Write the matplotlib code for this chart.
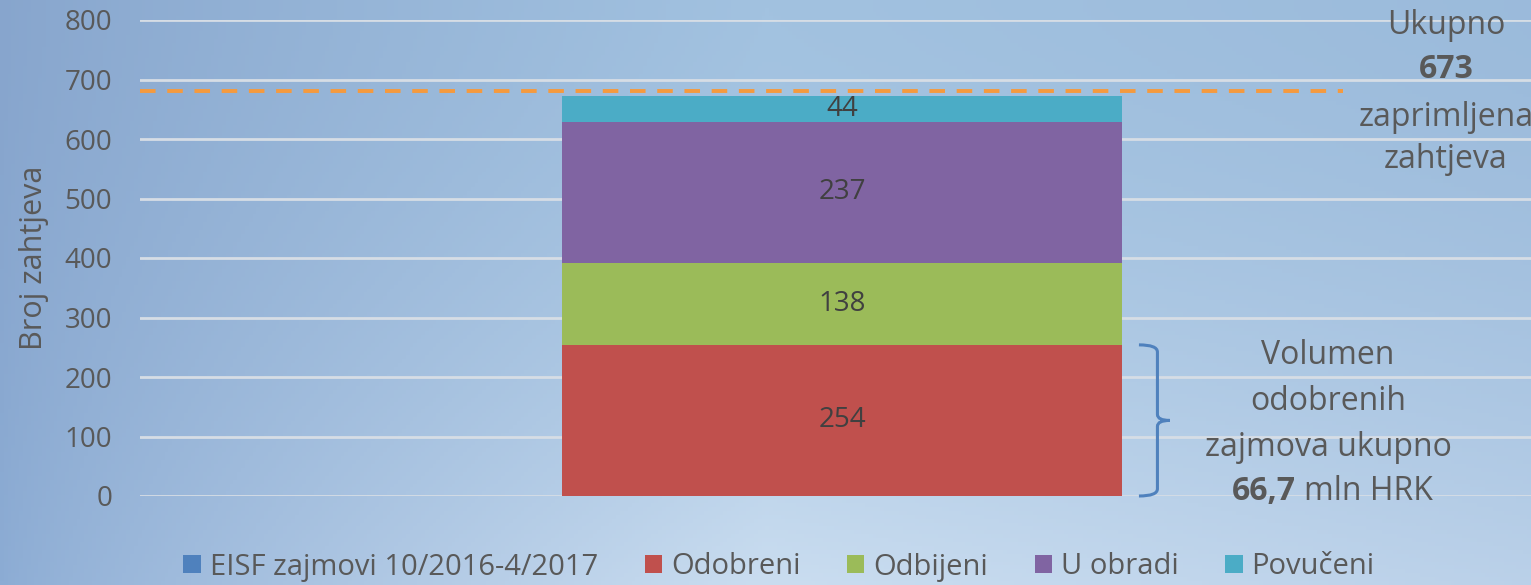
import numpy as np
import matplotlib.pyplot as plt
from matplotlib.path import Path
from matplotlib.patches import PathPatch

# --- data ---
series = ['EISF zajmovi 10/2016-4/2017', 'Odobreni', 'Odbijeni', 'U obradi', 'Povučeni']
values = [0, 254, 138, 237, 44]
colors = ['#4F81BD', '#C0504D', '#9BBB59', '#8064A2', '#4BACC6']
total = 673
total_line = 680
y_ticks = [0, 100, 200, 300, 400, 500, 600, 700, 800]

plt.rcParams['font.family'] = ['Open Sans', 'DejaVu Sans']
TXT = '#595959'

W, H = 1531, 585
fig = plt.figure(figsize=(W / 100, H / 100), dpi=100)

# background gradient: darker on the left, lightest at bottom middle
bg = fig.add_axes([0, 0, 1, 1], zorder=-10)
gx, gy = np.meshgrid(np.linspace(0, 1, 400), np.linspace(0, 1, 150))
h = np.clip(gx / 0.5, 0, 1) ** 0.8
h = np.where(gx > 0.5, 1 - 0.25 * (gx - 0.5) / 0.5, h)
top_l, top_c = np.array([135, 165, 205]), np.array([162, 194, 224])
bot_l, bot_c = np.array([140, 172, 212]), np.array([202, 221, 240])
top = top_l + h[..., None] * (top_c - top_l)
bot = bot_l + h[..., None] * (bot_c - bot_l)
v = (gy ** 1.6)[..., None]
img = (top * (1 - v) + bot * v) / 255
bg.imshow(img, aspect='auto', extent=[0, 1, 0, 1], origin='upper')
bg.axis('off')

ax = fig.add_axes([140 / W, (H - 496) / H, 1 - 140 / W, 476 / H])
ax.set_facecolor('none')

bottom = 0
for name, val, c in zip(series, values, colors):
    ax.bar(0, val, width=1.0, bottom=bottom, color=c, label=name, zorder=3)
    if val > 0:
        ax.text(0, bottom + val / 2, str(val), ha='center', va='center',
                fontsize=20, color='#404040', zorder=4)
    bottom += val

ax.set_xlim(-1.2536, 1.23)
ax.set_ylim(0, 800)
ax.set_yticks(y_ticks)
ax.tick_params(axis='y', length=0, pad=20, labelsize=20, labelcolor=TXT)
ax.set_xticks([])
for s in ax.spines.values():
    s.set_visible(False)
ax.grid(axis='y', color='#D6DDE5', linewidth=2, zorder=0)
ax.set_ylabel('Broj zahtjeva', fontsize=22, color=TXT, labelpad=11)

# dashed total line
ax.plot([-1.2536, 0.895], [total_line, total_line], color='#F59A3E',
        linewidth=2.8, dashes=(4, 3), zorder=2, clip_on=False)

# brace next to the approved segment
bx0, bx1 = 0.53, 0.585
top_v = values[1]
xm = bx1 - 0.022
verts = [(bx0, top_v), (xm, top_v), (xm, top_v - 12), (xm, top_v / 2 + 10),
         (xm, top_v / 2), (bx1, top_v / 2),
         (xm, top_v / 2), (xm, top_v / 2 - 10), (xm, 12),
         (xm, 0), (bx0, 0)]
codes = [Path.MOVETO, Path.CURVE3, Path.CURVE3, Path.LINETO,
         Path.CURVE3, Path.CURVE3,
         Path.CURVE3, Path.CURVE3, Path.LINETO,
         Path.CURVE3, Path.CURVE3]
ax.add_patch(PathPatch(Path(verts, codes), fill=False, edgecolor='#4F81BD',
                       linewidth=2.2, clip_on=False, zorder=3))

# right-hand annotations
fs = 23
fig.text(1446 / W, 1 - 25 / H, 'Ukupno', ha='center', va='center', fontsize=fs, color=TXT)
fig.text(1446 / W, 1 - 70 / H, str(total), ha='center', va='center', fontsize=fs,
         color=TXT, fontweight='bold')
fig.text(1446 / W, 1 - 117 / H, 'zaprimljena', ha='center', va='center', fontsize=fs, color=TXT)
fig.text(1446 / W, 1 - 160 / H, 'zahtjeva', ha='center', va='center', fontsize=fs, color=TXT)

fig.text(1328 / W, 1 - 356 / H, 'Volumen', ha='center', va='center', fontsize=fs, color=TXT)
fig.text(1328 / W, 1 - 401 / H, 'odobrenih', ha='center', va='center', fontsize=fs, color=TXT)
fig.text(1328 / W, 1 - 447 / H, 'zajmova ukupno', ha='center', va='center', fontsize=fs, color=TXT)
fig.text(1296 / W, 1 - 491 / H, '66,7', ha='right', va='center', fontsize=fs, color=TXT,
         fontweight='bold')
fig.text(1304 / W, 1 - 491 / H, 'mln HRK', ha='left', va='center', fontsize=fs, color=TXT)

leg = fig.legend(loc='center', bbox_to_anchor=(779 / W, 1 - 567 / H), ncol=5, frameon=False,
                 fontsize=21, handlelength=0.6, handleheight=0.6, handletextpad=0.3,
                 columnspacing=1.6, labelcolor=TXT)

fig.savefig('out.png', dpi=100)
